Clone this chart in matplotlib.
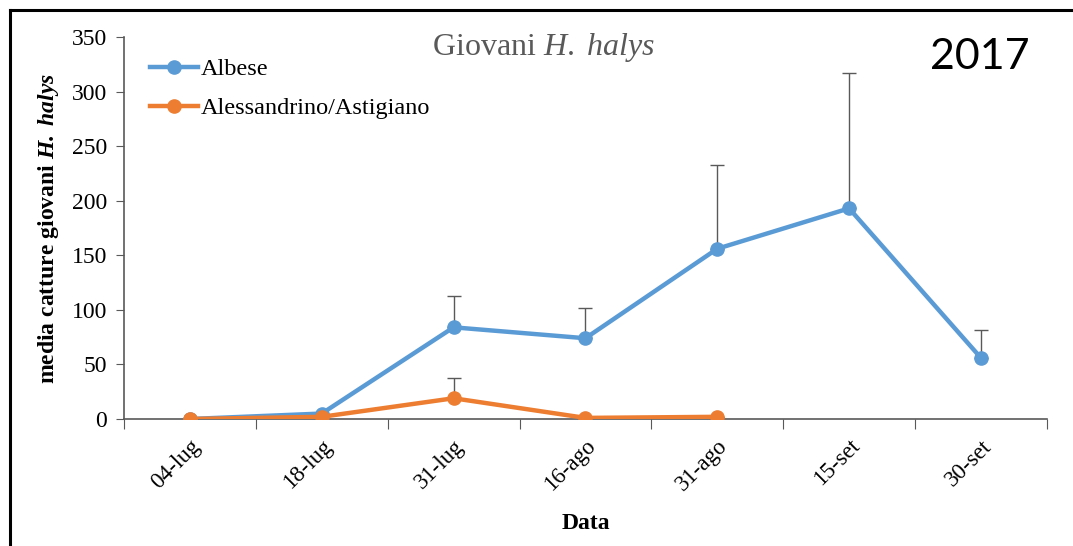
import matplotlib
matplotlib.use("Agg")
import matplotlib.pyplot as plt
from matplotlib.lines import Line2D
from matplotlib.ticker import FixedLocator

plt.rcParams['font.family'] = ['Liberation Serif', 'DejaVu Serif']
plt.rcParams['mathtext.fontset'] = 'custom'
plt.rcParams['mathtext.rm'] = 'Liberation Serif'
plt.rcParams['mathtext.it'] = 'Liberation Serif:italic'
plt.rcParams['mathtext.bf'] = 'Liberation Serif:bold'
plt.rcParams['mathtext.bfit'] = 'Liberation Serif:bold:italic'

# dati
date = ["04-lug", "18-lug", "31-lug", "16-ago", "31-ago", "15-set", "30-set"]
albese = [0, 5, 84, 74, 156, 193, 56]
albese_err = [0, 0, 29, 28, 77, 124, 26]
alessandrino = [0, 2, 19, 1, 2]
alessandrino_err = [0, 0, 19, 0, 0]

blu = "#5B9BD5"
arancio = "#ED7D31"
grigio = "#595959"

fig = plt.figure(figsize=(10.73, 5.46), dpi=100)
ax = fig.add_axes([0.1156, 0.2326, 0.86, 0.6996])

x1 = list(range(len(albese)))
x2 = list(range(len(alessandrino)))

# barre di errore (solo verso l'alto)
ax.errorbar(x1, albese, yerr=[[0] * len(albese), albese_err], fmt='none',
            ecolor=grigio, elinewidth=1, capsize=5, capthick=1, zorder=1)
ax.errorbar(x2, alessandrino, yerr=[[0] * len(alessandrino), alessandrino_err], fmt='none',
            ecolor=grigio, elinewidth=1, capsize=5, capthick=1, zorder=1)

ax.plot(x1, albese, color=blu, lw=3.2, marker='o', ms=9.5, label="Albese", zorder=3)
ax.plot(x2, alessandrino, color=arancio, lw=3.2, marker='o', ms=9.5,
        label="Alessandrino/Astigiano", zorder=4)

ax.set_xlim(-0.5, len(date) - 0.5)
ax.set_ylim(0, 350)
ax.set_yticks(range(0, 351, 50))

# tacche tra le categorie, etichette al centro
ax.xaxis.set_major_locator(FixedLocator([i - 0.5 for i in range(len(date) + 1)]))
ax.xaxis.set_minor_locator(FixedLocator(x1))
ax.set_xticklabels([], minor=False)
ax.set_xticklabels(date, minor=True, rotation=45, ha='right', rotation_mode='anchor', fontsize=16.5)
ax.tick_params(axis='x', which='major', length=7, color=grigio, direction='out')
ax.tick_params(axis='x', which='minor', length=0, pad=12)
ax.tick_params(axis='y', length=6, color=grigio, labelsize=17, pad=6)

for s in ['top', 'right']:
    ax.spines[s].set_visible(False)
for s in ['left', 'bottom']:
    ax.spines[s].set_color(grigio)
    ax.spines[s].set_linewidth(1.2)

ax.set_ylabel("media catture giovani $\\mathbfit{H.}$ $\\mathbfit{halys}$", fontsize=17,
              fontweight='bold', labelpad=8)
ax.set_xlabel("Data", fontsize=17, fontweight='bold', labelpad=13)

fig.text(0.507, 0.913, "Giovani $\\mathit{H.}$ $\\mathit{halys}$", fontsize=23, color='#595959',
         ha='center', va='center')

leg = ax.legend(loc='upper left', bbox_to_anchor=(0.028, 0.945), frameon=False, fontsize=17.5,
                handlelength=2.0, handletextpad=0.1, labelspacing=0.7, borderaxespad=0,
                borderpad=0)

fig.text(0.913, 0.896, "2017", fontsize=31, family='Lato', ha='center', va='center')

# cornice esterna
fig.add_artist(Line2D([0.0093, 0.0093], [0, 0.982], color='black', lw=2.2))
fig.add_artist(Line2D([0.0093, 1.0], [0.982, 0.982], color='black', lw=2.2))

fig.savefig("out.png", dpi=100)
